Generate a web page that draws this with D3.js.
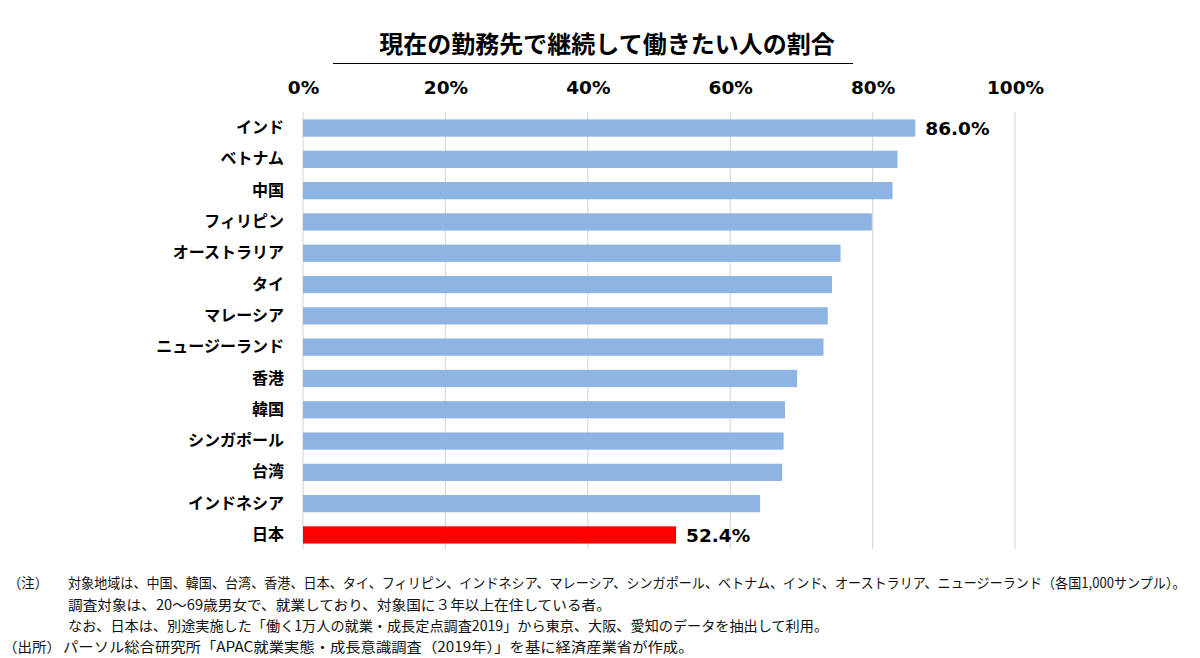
<!DOCTYPE html>
<html><head><meta charset="utf-8">
<script src="https://cdn.jsdelivr.net/npm/d3@7/dist/d3.min.js"></script>
<style>html,body{margin:0;padding:0;background:#fff;}svg{display:block;}</style>
</head><body>
<svg id="c" width="1200" height="658"></svg>
<script>
const title = "現在の勤務先で継続して働きたい人の割合";
const categories = ["インド","ベトナム","中国","フィリピン","オーストラリア","タイ","マレーシア","ニュージーランド","香港","韓国","シンガポール","台湾","インドネシア","日本"];
const values = [86.0,83.5,82.8,79.9,75.5,74.3,73.7,73.1,69.4,67.7,67.5,67.3,64.2,52.4];
const ticks = [0,20,40,60,80,100];
const labelled = {"インド":"86.0%","日本":"52.4%"};
const notes = [
  ["（注）","対象地域は、中国、韓国、台湾、香港、日本、タイ、フィリピン、インドネシア、マレーシア、シンガポール、ベトナム、インド、オーストラリア、ニュージーランド（各国1,000サンプル）。"],
  ["","調査対象は、20～69歳男女で、就業しており、対象国に３年以上在住している者。"],
  ["","なお、日本は、別途実施した「働く1万人の就業・成長定点調査2019」から東京、大阪、愛知のデータを抽出して利用。"],
  ["（出所）","パーソル総合研究所「APAC就業実態・成長意識調査（2019年）」を基に経済産業省が作成。"]
];

const svg = d3.select("#c");
const jp = "'Noto Sans CJK JP','Noto Sans',sans-serif";
const num = "'DejaVu Sans',Verdana,sans-serif";

const x = d3.scaleLinear().domain([0,100]).range([303,1015]);
const y = d3.scaleBand().domain(categories).range([112.4,550.6]).paddingInner(0.45).paddingOuter(0.225);

// title
svg.append("text").attr("x",607).attr("y",53).attr("text-anchor","middle")
  .style("font-family",jp).style("font-weight","bold").style("font-size","24px").attr("fill","#000").text(title);
svg.append("line").attr("x1",333).attr("x2",853).attr("y1",63.5).attr("y2",63.5).attr("stroke","#000").attr("stroke-width",1);

// gridlines
svg.append("g").selectAll("line").data(ticks.slice(1)).join("line")
  .attr("x1",d=>x(d)).attr("x2",d=>x(d)).attr("y1",112).attr("y2",549)
  .attr("stroke","#d9d9d9").attr("stroke-width",1.2);

// top axis
const ax = svg.append("g").attr("transform","translate(0,94)")
  .call(d3.axisTop(x).tickValues(ticks).tickFormat(d=>d+"%").tickSize(0).tickPadding(0));
ax.select(".domain").remove();
ax.selectAll("text").style("font-family",num).style("font-weight","bold").style("font-size","18.5px").attr("fill","#000");

// left axis
const ay = svg.append("g").attr("transform","translate(284,0)")
  .call(d3.axisLeft(y).tickSize(0).tickPadding(0));
ay.select(".domain").remove();
ay.selectAll("text").style("font-family",jp).style("font-weight","bold").style("font-size","16px").attr("fill","#000");

// axis line at 0
svg.append("line").attr("x1",x(0)).attr("x2",x(0)).attr("y1",112).attr("y2",549).attr("stroke","#d9d9d9").attr("stroke-width",1.2);

// bars
svg.append("g").selectAll("rect").data(categories).join("rect")
  .attr("x",x(0)).attr("y",d=>y(d)).attr("height",y.bandwidth())
  .attr("width",(d,i)=>x(values[i])-x(0))
  .attr("fill",d=>d==="日本"?"#ff0000":"#8eb4e3");

// data labels
svg.append("g").selectAll("text").data(categories.filter(d=>labelled[d])).join("text")
  .attr("x",d=>x(values[categories.indexOf(d)])+10)
  .attr("y",d=>y(d)+y.bandwidth()/2).attr("dy","0.36em")
  .style("font-family",num).style("font-weight","bold").style("font-size","18.5px").attr("fill","#000")
  .text(d=>labelled[d]);

// notes
const noteY = [588,610,631,652];
const noteX = [68,68,68,63];
const noteW = [1118,543,761,631];
const labX = [8,8,8,3];
const labW = [40,40,40,58];
function fit(sel, x0, y0, w){
  const nat = sel.node().getComputedTextLength();
  sel.attr("transform",`translate(${x0},${y0}) scale(${w/nat},1)`);
}
notes.forEach((n,i)=>{
  if(n[0]){
    const t = svg.append("text").style("font-family",jp).style("font-size","14px").attr("fill","#111").text(n[0]);
    fit(t, labX[i], noteY[i], labW[i]);
  }
  const t2 = svg.append("text").style("font-family",jp).style("font-size","14px").attr("fill","#111").text(n[1]);
  fit(t2, noteX[i], noteY[i], noteW[i]);
});
</script>
</body></html>
